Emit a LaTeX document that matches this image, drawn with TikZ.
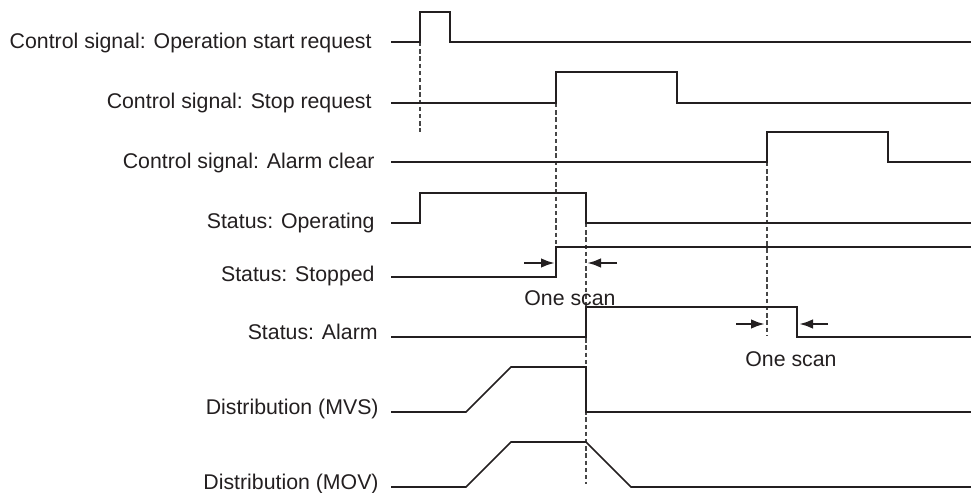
\documentclass[tikz,border=0pt]{standalone}
\usepackage{fontspec}
\setmainfont{Liberation Sans}
\usetikzlibrary{arrows.meta}
\definecolor{WaveLine}{RGB}{35,31,32}
\definecolor{GuideLine}{RGB}{70,70,70}

\begin{document}
\begin{tikzpicture}[
    x=0.5pt, y=-0.5pt,
    wave/.style={draw=WaveLine, line width=0.8pt, line join=miter},
    guide/.style={draw=GuideLine, line width=0.65pt, dash pattern=on 2.2pt off 1.4pt},
    siglabel/.style={anchor=base east, inner sep=0pt, font=\fontsize{10.65}{12}\selectfont, text=WaveLine},
    scanlabel/.style={anchor=base, inner sep=0pt, font=\fontsize{10.65}{12}\selectfont, text=WaveLine},
    gap/.style={draw=WaveLine, line width=1.2pt, -{Latex[length=7pt,width=4.8pt]}}
]
\useasboundingbox (0,0) rectangle (971,493);
\node[siglabel] (lstart) at (372, 48) {Control signal: Operation start request};
\node[siglabel] (lstopreq) at (372, 108) {Control signal: Stop request};
\node[siglabel] (lclear) at (375, 168) {Control signal: Alarm clear};
\node[siglabel] (loper) at (375, 228) {Status: Operating};
\node[siglabel] (lstopped) at (375, 281) {Status: Stopped};
\node[siglabel] (lalarm) at (378, 339) {Status: Alarm};
\node[siglabel] (lmvs) at (379, 414) {Distribution (MVS)};
\node[siglabel] (lmov) at (379, 489) {Distribution (MOV)};
\draw[guide] (420, 42) -- (420, 132);
\draw[guide] (556, 103) -- (556, 247);
\draw[guide] (767, 162) -- (767, 335);
\draw[guide] (586, 223) -- (586, 484);
\draw[wave] (391, 42) -- (420, 42) -- (420, 12) -- (450, 12) -- (450, 42) -- (971, 42);
\draw[wave] (391, 103) -- (556, 103) -- (556, 72) -- (677, 72) -- (677, 103) -- (971, 103);
\draw[wave] (391, 162) -- (767, 162) -- (767, 132) -- (888, 132) -- (888, 162) -- (971, 162);
\draw[wave] (391, 223) -- (420, 223) -- (420, 193) -- (586, 193) -- (586, 223) -- (971, 223);
\draw[wave] (391, 277) -- (556, 277) -- (556, 247) -- (971, 247);
\draw[wave] (391, 337) -- (586, 337) -- (586, 307) -- (797, 307) -- (797, 337) -- (971, 337);
\draw[wave] (391, 412) -- (466, 412) -- (511, 367) -- (586, 367) -- (586, 412) -- (971, 412);
\draw[wave] (391, 487) -- (466, 487) -- (511, 442) -- (586, 442) -- (631, 487) -- (971, 487);
\coordinate (s1a) at (524, 263);
\coordinate (s1b) at (555, 263);
\coordinate (s1c) at (617, 263);
\coordinate (s1d) at (587, 263);
\coordinate (s2a) at (736, 324);
\coordinate (s2b) at (765, 324);
\coordinate (s2c) at (828, 324);
\coordinate (s2d) at (799, 324);
\draw[gap] (s1a) -- (s1b);
\draw[gap] (s1c) -- (s1d);
\draw[gap] (s2a) -- (s2b);
\draw[gap] (s2c) -- (s2d);
\node[scanlabel] (scan1) at (570, 305.5) {One scan};
\node[scanlabel] (scan2) at (791, 366.5) {One scan};
\end{tikzpicture}
\end{document}
